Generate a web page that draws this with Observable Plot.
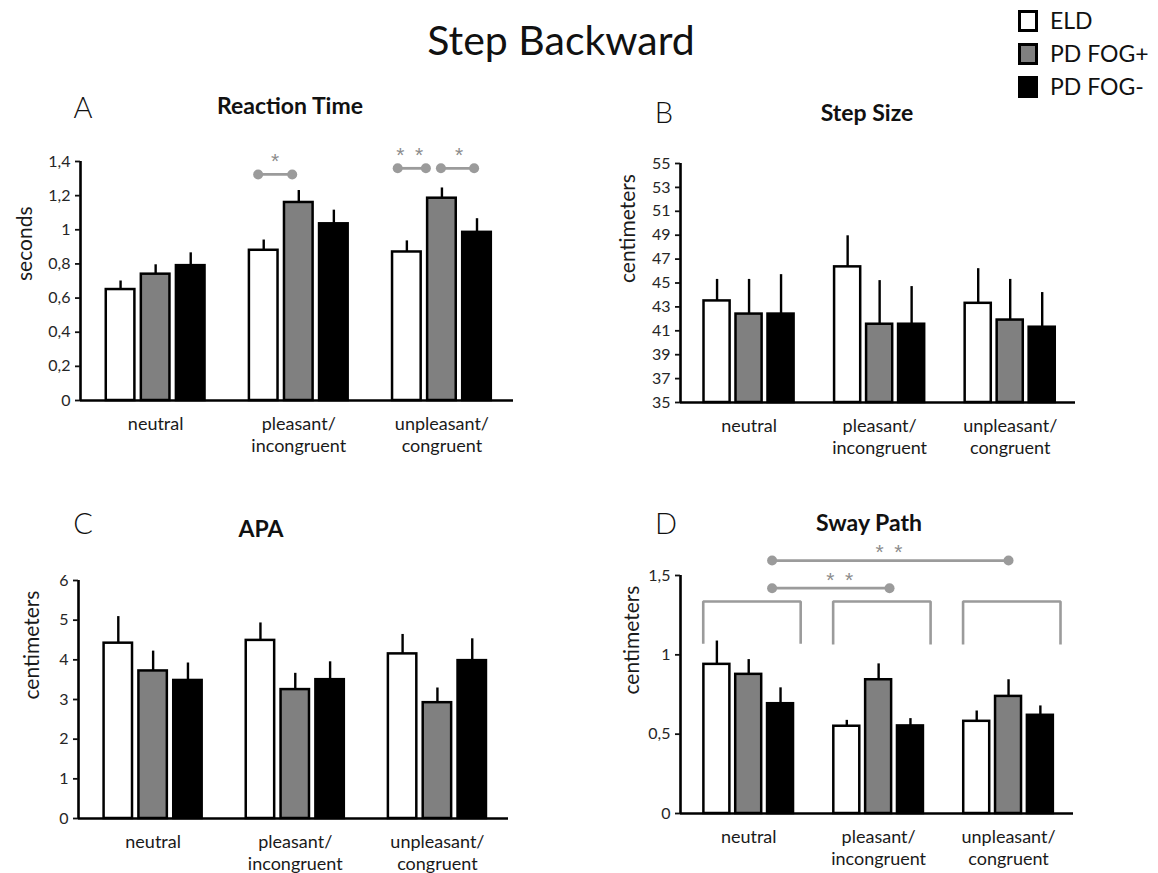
<!DOCTYPE html>
<html>
<head>
<meta charset="utf-8">
<script src="https://cdn.jsdelivr.net/npm/d3@7"></script>
<script src="https://cdn.jsdelivr.net/npm/@observablehq/plot@0.6"></script>
<style>
  html, body { margin: 0; padding: 0; background: #fff; }
  #fig { position: relative; width: 1158px; height: 873px; overflow: hidden; background: #fff;
         font-family: Lato, "Open Sans", sans-serif; color: #111; }
  .lbl { position: absolute; line-height: 1; white-space: nowrap; transform: translate(-50%, -50%); }
  .panel { position: absolute; }
  .leg { position: absolute; display: flex; align-items: center; font-size: 23px; line-height: 1; }
  .leg .box { width: 14px; height: 16px; border: 3px solid #000; margin-right: 12px; }
</style>
</head>
<body>
<div id="fig"></div>
<script>
// ---------------- data ----------------
const groups = ["neutral", "pleasant/\nincongruent", "unpleasant/\ncongruent"];
const series = ["ELD", "PD FOG+", "PD FOG-"];
const seriesFill = ["#ffffff", "#808080", "#000000"];

// A: Reaction Time (seconds)
const rtMean = [[0.65, 0.74, 0.79], [0.88, 1.16, 1.035], [0.87, 1.185, 0.985]];
const rtErr  = [[0.05, 0.055, 0.075], [0.06, 0.07, 0.08], [0.065, 0.06, 0.08]];
const rtTicks = [0, 0.2, 0.4, 0.6, 0.8, 1, 1.2, 1.4];
const rtSig = [
  {x1: 0.716, x2: 0.954, y: 1.324, sx: 0.835, sy: 1.43, label: "*"},
  {x1: 1.691, x2: 1.888, y: 1.36, sx: 1.775, sy: 1.465, label: "*\u2002*"},
  {x1: 1.993, x2: 2.225, y: 1.36, sx: 2.12, sy: 1.465, label: "*"}
];

// B: Step Size (centimeters)
const ssMean = [[43.5, 42.4, 42.4], [46.35, 41.55, 41.55], [43.3, 41.9, 41.3]];
const ssErr  = [[1.8, 2.9, 3.3], [2.6, 3.65, 3.15], [2.9, 3.4, 2.9]];
const ssTicks = [35, 37, 39, 41, 43, 45, 47, 49, 51, 53, 55];

// C: APA (centimeters)
const apaMean = [[4.42, 3.72, 3.48], [4.49, 3.25, 3.50], [4.15, 2.92, 3.98]];
const apaErr  = [[0.67, 0.5, 0.44], [0.44, 0.41, 0.45], [0.49, 0.37, 0.55]];
const apaTicks = [0, 1, 2, 3, 4, 5, 6];

// D: Sway Path (centimeters)
const spMean = [[0.94, 0.877, 0.692], [0.55, 0.843, 0.552], [0.581, 0.738, 0.619]];
const spErr  = [[0.147, 0.093, 0.10], [0.037, 0.10, 0.046], [0.065, 0.105, 0.059]];
const spTicks = [0, 0.5, 1, 1.5];
const spBrackets = [
  {g: 0, left: -0.35, right: 0.4, top: 1.336, foot: 1.07},
  {g: 1, left: -0.35, right: 0.4, top: 1.336, foot: 1.065},
  {g: 2, left: -0.35, right: 0.4, top: 1.336, foot: 1.065}
];
const spSig = [
  {x1: 0.18, x2: 1.084, y: 1.42, sx: 0.70, sy: 1.5, label: "*\u2002*"},
  {x1: 0.18, x2: 2.0, y: 1.594, sx: 1.08, sy: 1.68, label: "*\u2002*"}
];

// ---------------- layout ----------------
const xDom = [-0.525, 2.5];
const offsets = [-0.245, 0, 0.245];
const barW = 0.2;
const FONT = "Lato, 'Open Sans', sans-serif";
const comma = d => String(d).replace(".", ",");
const sigGray = "#9b9b9b";

function panel({mean, err, ticks, yDom, tickFormat, ylabel, ylabelDx, sig, brackets,
                width, height, mL, mR, mT, mB}) {
  const rows = groups.flatMap((g, i) => series.map((s, j) => ({
    gi: i, sj: j, series: s, mean: mean[i][j], top: mean[i][j] + err[i][j]
  })));
  const cx = d => d.gi + offsets[d.sj];
  const marks = [
    Plot.rect(rows, {
      x1: d => cx(d) - barW / 2, x2: d => cx(d) + barW / 2,
      y1: d => yDom[0], y2: "mean",
      fill: "series", stroke: "#000", strokeWidth: 2.5
    }),
    Plot.ruleX(rows, {x: cx, y1: "mean", y2: "top", stroke: "#000", strokeWidth: 2.4}),
    Plot.ruleY([yDom[0]], {stroke: "#000", strokeWidth: 2.6}),
    Plot.ruleX([xDom[0]], {stroke: "#000", strokeWidth: 2.6}),
    Plot.axisY({ticks, tickFormat, tickSize: 5, tickPadding: 5, strokeWidth: 1.8,
                fontSize: 16, fill: "#262626"}),
    Plot.axisX({ticks: groups.map((_, i) => i), tickFormat: i => groups[i], tickSize: 0,
                tickPadding: 15, fontSize: 18, lineHeight: 1.17, fill: "#1a1a1a"}),
    Plot.text([ylabel], {frameAnchor: "left", rotate: -90, dx: ylabelDx, fontSize: 21,
                         fill: "#1a1a1a"})
  ];
  if (brackets) {
    const pts = brackets.flatMap(b => [
      {g: b.g, x: b.g + b.left, y: b.foot}, {g: b.g, x: b.g + b.left, y: b.top},
      {g: b.g, x: b.g + b.right, y: b.top}, {g: b.g, x: b.g + b.right, y: b.foot}
    ]);
    marks.push(Plot.line(pts, {x: "x", y: "y", z: "g", stroke: sigGray, strokeWidth: 2.6,
                               strokeLinejoin: "miter", strokeLinecap: "butt"}));
  }
  if (sig) {
    marks.push(Plot.link(sig, {x1: "x1", x2: "x2", y1: "y", y2: "y", stroke: sigGray, strokeWidth: 2.8}));
    marks.push(Plot.dot(sig.flatMap(s => [{x: s.x1, y: s.y}, {x: s.x2, y: s.y}]),
                        {x: "x", y: "y", r: 5, fill: sigGray, stroke: "none"}));
    marks.push(Plot.text(sig, {x: "sx", y: "sy", text: "label", fontSize: 21, dy: 5,
                               fontFamily: "'Liberation Sans', sans-serif", fill: "#8c8c8c"}));
  }
  return Plot.plot({
    width, height, marginLeft: mL, marginRight: mR, marginTop: mT, marginBottom: mB,
    x: {type: "linear", domain: xDom, axis: null},
    y: {domain: yDom, axis: null},
    color: {domain: series, range: seriesFill},
    style: {fontFamily: FONT, background: "transparent", overflow: "visible"},
    marks
  });
}

const fig = document.getElementById("fig");
function place(el, left, top) {
  const wrap = document.createElement("div");
  wrap.className = "panel";
  wrap.style.left = left + "px";
  wrap.style.top = top + "px";
  wrap.appendChild(el);
  fig.appendChild(wrap);
}
function label(text, cx, cy, size, weight) {
  const d = document.createElement("div");
  d.className = "lbl";
  d.textContent = text;
  d.style.left = cx + "px";
  d.style.top = cy + "px";
  d.style.fontSize = size + "px";
  d.style.fontWeight = weight || 400;
  fig.appendChild(d);
}

place(panel({mean: rtMean, err: rtErr, ticks: rtTicks, yDom: [0, 1.4], tickFormat: comma,
             ylabel: "seconds", ylabelDx: -55, sig: rtSig,
             width: 530, height: 330, mL: 80, mR: 17, mT: 31, mB: 60}), 0, 130);
place(panel({mean: ssMean, err: ssErr, ticks: ssTicks, yDom: [35, 55], tickFormat: d => String(d),
             ylabel: "centimeters", ylabelDx: -52,
             width: 500, height: 330, mL: 90, mR: 15, mT: 33, mB: 58}), 590, 130);
place(panel({mean: apaMean, err: apaErr, ticks: apaTicks, yDom: [0, 6], tickFormat: d => String(d),
             ylabel: "centimeters", ylabelDx: -46,
             width: 525, height: 333, mL: 78, mR: 17, mT: 40, mB: 55}), 0, 540);
place(panel({mean: spMean, err: spErr, ticks: spTicks, yDom: [0, 1.5], tickFormat: comma,
             ylabel: "centimeters", ylabelDx: -48, sig: spSig, brackets: spBrackets,
             width: 500, height: 343, mL: 90, mR: 17, mT: 45, mB: 60}), 590, 530);

// titles and panel letters
label("Step Backward", 561, 39, 41, 400);
label("A", 83, 106, 29, 300);
label("B", 664, 111, 29, 300);
label("C", 83, 522, 29, 300);
label("D", 666, 522, 29, 300);
label("Reaction Time", 290, 105, 23, 700);
label("Step Size", 867, 112, 23, 700);
label("APA", 261, 528, 23, 700);
label("Sway Path", 869, 522, 23, 700);

// legend
const legTop = [20, 53, 86];
series.forEach((s, i) => {
  const row = document.createElement("div");
  row.className = "leg";
  row.style.left = "1018px";
  row.style.top = (legTop[i] - 11) + "px";
  const box = document.createElement("div");
  box.className = "box";
  box.style.background = seriesFill[i];
  const t = document.createElement("span");
  t.textContent = s;
  row.appendChild(box);
  row.appendChild(t);
  fig.appendChild(row);
});
</script>
</body>
</html>
